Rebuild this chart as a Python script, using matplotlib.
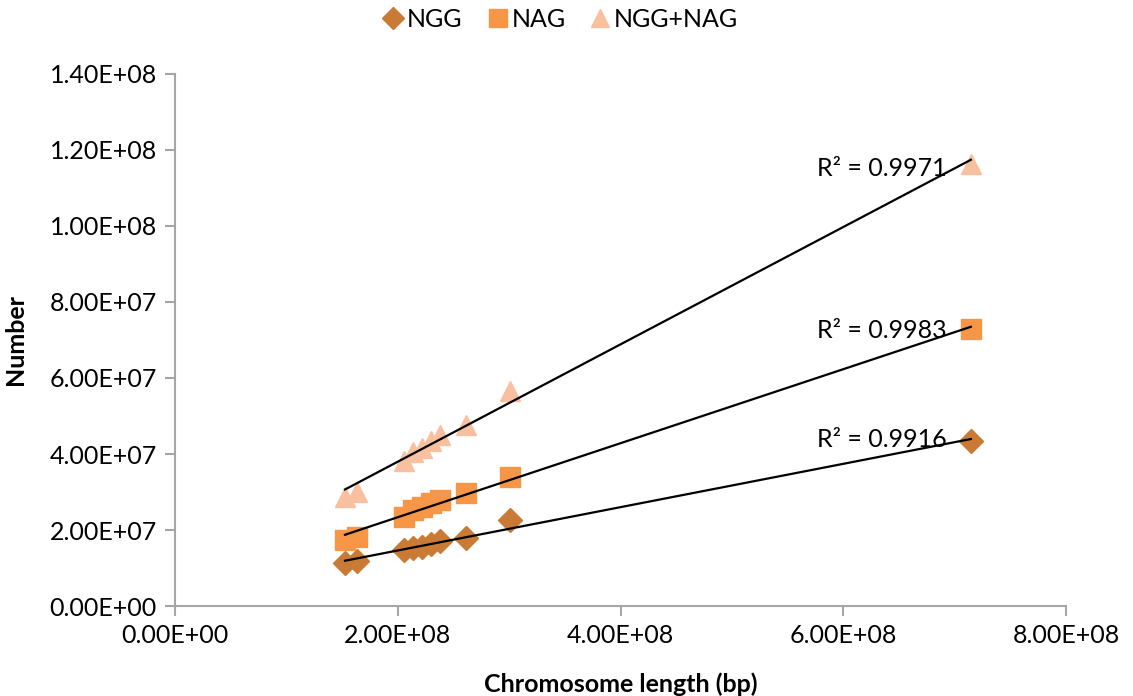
import numpy as np
import matplotlib
matplotlib.use("Agg")
import matplotlib.pyplot as plt
from matplotlib.ticker import FuncFormatter

plt.rcParams['font.family'] = ['Lato', 'DejaVu Sans']

# Data
chrom_length = [1.526e8, 1.634e8, 2.056e8, 2.136e8, 2.217e8, 2.298e8, 2.379e8, 2.612e8, 3.007e8, 7.145e8]
ngg = [1.13e7, 1.18e7, 1.47e7, 1.53e7, 1.55e7, 1.64e7, 1.72e7, 1.79e7, 2.26e7, 4.34e7]
nag = [1.74e7, 1.82e7, 2.34e7, 2.53e7, 2.61e7, 2.71e7, 2.79e7, 2.97e7, 3.39e7, 7.29e7]
ngg_nag = [2.87e7, 3.00e7, 3.81e7, 4.06e7, 4.16e7, 4.35e7, 4.51e7, 4.76e7, 5.65e7, 1.163e8]
series_names = ["NGG", "NAG", "NGG+NAG"]
r2_labels = ["R² = 0.9916", "R² = 0.9983", "R² = 0.9971"]
x_ticks = [0, 2e8, 4e8, 6e8, 8e8]
y_ticks = [0, 2e7, 4e7, 6e7, 8e7, 1.0e8, 1.2e8, 1.4e8]

colors = ['#c97a34', '#f79646', '#f9c0a0']
markers = ['D', 's', '^']
msizes = [12, 14.5, 15]

fs = 18

fig = plt.figure(figsize=(11.33, 6.96), dpi=100)
ax = fig.add_axes([0.1545, 0.1293, 0.7864, 0.7644])

x = np.array(chrom_length)
handles = []
for ys, name, c, m, ms, lab in zip([ngg, nag, ngg_nag], series_names, colors, markers, msizes, r2_labels):
    ys = np.array(ys)
    h, = ax.plot(x, ys, linestyle='none', marker=m, color=c, markersize=ms, label=name, zorder=3)
    handles.append(h)
    k, b = np.polyfit(x, ys, 1)
    xl = np.array([x.min(), x.max()])
    ax.plot(xl, k * xl + b, color='black', lw=1.6, zorder=4)
    ax.text(6.93e8, k * 6.93e8 + b + 0.1e7, lab, ha='right', va='center', fontsize=fs, zorder=5)

ax.set_xlim(0, 8e8)
ax.set_ylim(0, 1.4e8)
ax.set_xticks(x_ticks)
ax.set_yticks(y_ticks)
fmt = FuncFormatter(lambda v, p: f"{v:.2E}")
ax.xaxis.set_major_formatter(fmt)
ax.yaxis.set_major_formatter(fmt)
for s in ['top', 'right']:
    ax.spines[s].set_visible(False)
for s in ['left', 'bottom']:
    ax.spines[s].set_color('#a6a6a6')
    ax.spines[s].set_linewidth(1.5)
ax.tick_params(axis='both', direction='out', length=7, width=1.5, color='#a6a6a6', labelsize=fs, pad=6)

ax.set_xlabel("Chromosome length (bp)", fontsize=fs, fontweight='bold', labelpad=18)
ax.set_ylabel("Number", fontsize=fs, fontweight='bold', labelpad=16)

fig.legend(handles=handles, labels=series_names, loc='center', bbox_to_anchor=(0.495, 0.972), ncol=3,
           frameon=False, fontsize=fs, handlelength=0.8, handletextpad=0.15, columnspacing=1.0, markerscale=0.9)

fig.savefig("out.png", dpi=100)
